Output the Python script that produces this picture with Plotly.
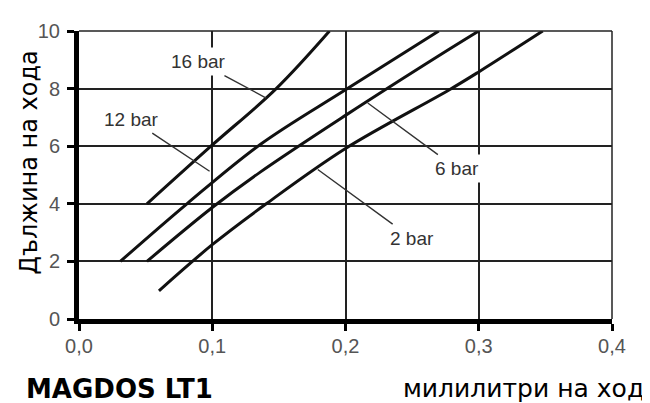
import plotly.graph_objects as go

# ---- data ----
x_16 = [0.051, 0.099, 0.148, 0.188]
y_16 = [4.0, 6.0, 8.0, 10.0]
x_12 = [0.031, 0.081, 0.136, 0.200, 0.270]
y_12 = [2.0, 4.0, 6.06, 7.96, 10.0]
x_6 = [0.051, 0.100, 0.136, 0.200, 0.270, 0.300]
y_6 = [2.0, 3.87, 5.10, 7.07, 9.14, 10.0]
x_2 = [0.060, 0.100, 0.1405, 0.200, 0.278, 0.300, 0.348]
y_2 = [0.98, 2.58, 4.0, 5.92, 7.96, 8.58, 10.0]

series = [("16 bar", x_16, y_16), ("12 bar", x_12, y_12),
          ("6 bar", x_6, y_6), ("2 bar", x_2, y_2)]

# label text position (tail) and leader end (head), data coordinates
label_names = ["16 bar", "12 bar", "6 bar", "2 bar"]
label_tx = [0.0897, 0.0392, 0.2836, 0.2498]
label_ty = [8.94, 6.94, 5.22, 2.81]
label_hx = [0.1405, 0.098, 0.2167, 0.1792]
label_hy = [7.67, 5.13, 7.50, 5.19]

x_tickvals = [0.0, 0.1, 0.2, 0.3, 0.4]
x_ticktext = ["0,0", "0,1", "0,2", "0,3", "0,4"]
y_tickvals = [0, 2, 4, 6, 8, 10]
y_ticktext = ["0", "2", "4", "6", "8", "10"]

y_title = "Дължина на хода"
x_title = "милилитри на ход"
model = "MAGDOS LT1"

# ---- figure ----
fig = go.Figure()
for name, xs, ys in series:
    fig.add_trace(go.Scatter(x=xs, y=ys, mode="lines", name=name,
                             line=dict(color="#111111", width=3, shape="spline", smoothing=1.0),
                             showlegend=False, hoverinfo="skip"))

ticks_font = "Liberation Sans, Arial, sans-serif"
sans = "Verdana, DejaVu Sans, sans-serif"

annotations = []
for n, tx, ty, hx, hy in zip(label_names, label_tx, label_ty, label_hx, label_hy):
    annotations.append(dict(x=hx, y=hy, ax=tx, ay=ty, xref="x", yref="y",
                            axref="x", ayref="y", text=n, showarrow=True,
                            arrowhead=0, arrowwidth=1.4, arrowcolor="#333333",
                            font=dict(family=ticks_font, size=19, color="#333333"),
                            bgcolor="white", borderpad=3))

annotations.append(dict(text=y_title, textangle=-90, xref="paper", yref="paper",
                        x=-0.093, y=0.544, xanchor="center", yanchor="middle",
                        showarrow=False, font=dict(family=sans, size=24, color="#000000")))
annotations.append(dict(text="<b>" + model + "</b>", xref="paper", yref="paper",
                        x=-0.102, y=-0.242, xanchor="left", yanchor="middle",
                        showarrow=False, borderpad=0,
                        font=dict(family=sans, size=26, color="#000000")))
annotations.append(dict(text=x_title, xref="paper", yref="paper",
                        x=1.062, y=-0.242, xanchor="right", yanchor="middle",
                        showarrow=False, borderpad=0,
                        font=dict(family=sans, size=25, color="#000000")))

axis_common = dict(showgrid=True, gridcolor="#222222", gridwidth=1.5,
                   showline=True, linecolor="#000000", linewidth=5,
                   ticks="outside", tickcolor="#000000", tickwidth=3, ticklen=7,
                   zeroline=False,
                   tickfont=dict(family=ticks_font, size=20, color="#555555"))

fig.update_xaxes(range=[0, 0.4], tickvals=x_tickvals, ticktext=x_ticktext,
                 ticklabelstandoff=-2, **axis_common)
fig.update_yaxes(range=[0, 10], tickvals=y_tickvals, ticktext=y_ticktext,
                 ticklabelstandoff=3, **axis_common)

# thin frame on top and right (as in reference)
fig.add_shape(type="line", xref="paper", yref="paper", x0=0, x1=1, y0=1, y1=1,
              line=dict(color="#222222", width=1.5))
fig.add_shape(type="line", xref="paper", yref="paper", x0=1, x1=1, y0=0, y1=1,
              line=dict(color="#222222", width=1.5))

# page body adds an 8px offset, so margins are shifted to compensate
fig.update_layout(width=650, height=403, margin=dict(l=71, r=46, t=15, b=92),
                  paper_bgcolor="white", plot_bgcolor="white",
                  annotations=annotations)

fig.write_html("out.html")
